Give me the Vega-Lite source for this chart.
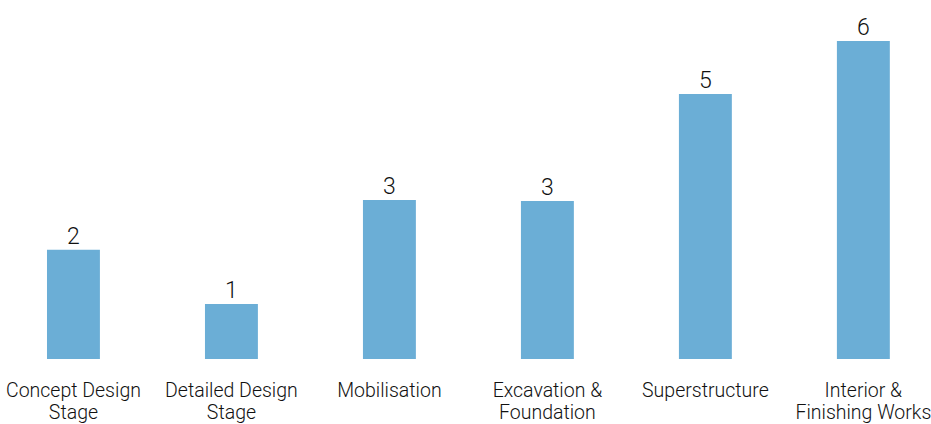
{
  "$schema": "https://vega.github.io/schema/vega-lite/v6.json",
  "width": 931,
  "height": 359,
  "autosize": {"type": "none"},
  "padding": {"left": 0, "right": 0, "top": 0, "bottom": 65},
  "background": "white",
  "config": {"view": {"stroke": null}, "font": "Roboto"},
  "data": {
    "values": [
      {"stage": "Concept Design|Stage", "value": 2.06},
      {"stage": "Detailed Design|Stage", "value": 1.04},
      {"stage": "Mobilisation", "value": 3.0},
      {"stage": "Excavation &|Foundation", "value": 2.98},
      {"stage": "Superstructure", "value": 5.0},
      {"stage": "Interior &|Finishing Works", "value": 6.0}
    ]
  },
  "encoding": {
    "x": {
      "field": "stage",
      "type": "nominal",
      "sort": null,
      "scale": {"paddingInner": 0.665, "paddingOuter": 0.279, "align": 0.533},
      "axis": {
        "title": null,
        "domain": false,
        "ticks": false,
        "labelAngle": 0,
        "labelFont": "Roboto",
        "labelFontSize": 19.5,
        "labelFontWeight": 300,
        "labelColor": "#111111",
        "labelPadding": 22,
        "labelLineHeight": 22,
        "labelLimit": 0,
        "labelOverlap": false,
        "labelExpr": "split(datum.label, '|')"
      }
    },
    "y": {
      "field": "value",
      "type": "quantitative",
      "scale": {"domain": [0, 6.774], "nice": false, "zero": true},
      "axis": null
    }
  },
  "layer": [
    {"mark": {"type": "bar", "color": "#6baed6"}},
    {
      "mark": {"type": "text", "baseline": "alphabetic", "dy": -6, "fontSize": 23, "fontWeight": 300, "color": "#111111", "font": "Roboto"},
      "encoding": {"text": {"field": "value", "type": "quantitative", "format": ".0f"}}
    }
  ]
}
